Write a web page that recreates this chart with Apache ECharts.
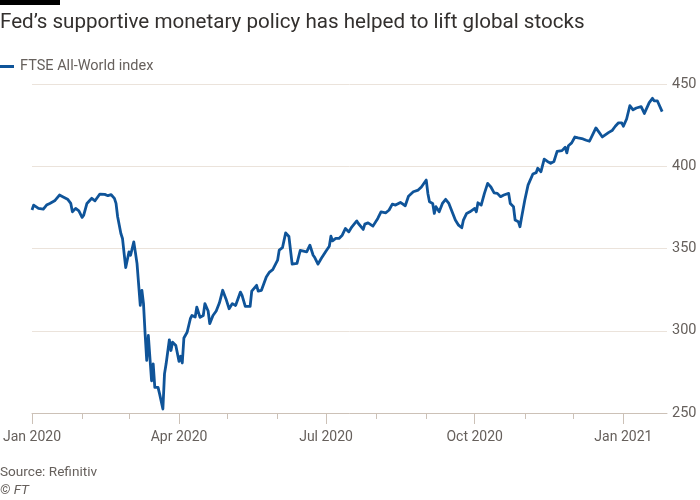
<!DOCTYPE html>
<html>
<head>
<meta charset="utf-8">
<script src="https://cdn.jsdelivr.net/npm/echarts@6/dist/echarts.min.js"></script>
<style>
  html, body { margin: 0; padding: 0; background: #fff; }
  #chart { width: 700px; height: 500px; }
</style>
</head>
<body>
<div id="chart"></div>
<script>
  var seriesName = 'FTSE All-World index';

  var dates = [
    '2020-01-01', '2020-01-02', '2020-01-05', '2020-01-08', '2020-01-10', '2020-01-12', '2020-01-15', '2020-01-18',
    '2020-01-20', '2020-01-23', '2020-01-25', '2020-01-26', '2020-01-28', '2020-01-30', '2020-02-01', '2020-02-02',
    '2020-02-04', '2020-02-07', '2020-02-09', '2020-02-12', '2020-02-15', '2020-02-17', '2020-02-19', '2020-02-21',
    '2020-02-22', '2020-02-23', '2020-02-25', '2020-02-26', '2020-02-27', '2020-02-28', '2020-03-01', '2020-03-02',
    '2020-03-04', '2020-03-05', '2020-03-06', '2020-03-08', '2020-03-09', '2020-03-10', '2020-03-11', '2020-03-12',
    '2020-03-13', '2020-03-15', '2020-03-16', '2020-03-17', '2020-03-19', '2020-03-20', '2020-03-22', '2020-03-23',
    '2020-03-24', '2020-03-26', '2020-03-27', '2020-03-28', '2020-03-30', '2020-04-01', '2020-04-02', '2020-04-03',
    '2020-04-04', '2020-04-06', '2020-04-08', '2020-04-09', '2020-04-11', '2020-04-12', '2020-04-14', '2020-04-16',
    '2020-04-17', '2020-04-19', '2020-04-20', '2020-04-22', '2020-04-24', '2020-04-26', '2020-04-28', '2020-04-30',
    '2020-05-02', '2020-05-04', '2020-05-06', '2020-05-09', '2020-05-10', '2020-05-12', '2020-05-15', '2020-05-16',
    '2020-05-19', '2020-05-20', '2020-05-22', '2020-05-25', '2020-05-27', '2020-05-29', '2020-06-01', '2020-06-02',
    '2020-06-04', '2020-06-06', '2020-06-08', '2020-06-10', '2020-06-13', '2020-06-15', '2020-06-19', '2020-06-21',
    '2020-06-23', '2020-06-24', '2020-06-26', '2020-06-28', '2020-07-01', '2020-07-03', '2020-07-04', '2020-07-05',
    '2020-07-07', '2020-07-09', '2020-07-11', '2020-07-13', '2020-07-15', '2020-07-17', '2020-07-20', '2020-07-21',
    '2020-07-24', '2020-07-25', '2020-07-27', '2020-07-30', '2020-08-02', '2020-08-04', '2020-08-07', '2020-08-09',
    '2020-08-11', '2020-08-13', '2020-08-16', '2020-08-19', '2020-08-21', '2020-08-24', '2020-08-27', '2020-08-29',
    '2020-08-30', '2020-09-01', '2020-09-02', '2020-09-03', '2020-09-05', '2020-09-06', '2020-09-07', '2020-09-09',
    '2020-09-11', '2020-09-13', '2020-09-15', '2020-09-17', '2020-09-19', '2020-09-21', '2020-09-23', '2020-09-24',
    '2020-09-26', '2020-09-28', '2020-10-01', '2020-10-02', '2020-10-03', '2020-10-05', '2020-10-07', '2020-10-09',
    '2020-10-11', '2020-10-13', '2020-10-15', '2020-10-17', '2020-10-19', '2020-10-22', '2020-10-23', '2020-10-25',
    '2020-10-26', '2020-10-28', '2020-10-29', '2020-10-30', '2020-11-01', '2020-11-03', '2020-11-04', '2020-11-06',
    '2020-11-08', '2020-11-09', '2020-11-11', '2020-11-13', '2020-11-15', '2020-11-17', '2020-11-19', '2020-11-21',
    '2020-11-24', '2020-11-26', '2020-11-27', '2020-11-28', '2020-11-30', '2020-12-02', '2020-12-04', '2020-12-07',
    '2020-12-09', '2020-12-11', '2020-12-13', '2020-12-15', '2020-12-17', '2020-12-19', '2020-12-21', '2020-12-23',
    '2020-12-25', '2020-12-27', '2020-12-29', '2020-12-31', '2021-01-01', '2021-01-03', '2021-01-05', '2021-01-07',
    '2021-01-09', '2021-01-12', '2021-01-14', '2021-01-15', '2021-01-17', '2021-01-19', '2021-01-20', '2021-01-22',
    '2021-01-23', '2021-01-25'
  ];

  var values = [
    373.4, 376.4, 374.4, 374.0, 376.4, 377.4, 379.0, 382.5,
    381.5, 380.0, 377.4, 372.3, 374.4, 372.9, 368.9, 370.3,
    377.4, 380.5, 379.0, 383.1, 382.9, 382.1, 382.7, 380.5,
    377.4, 369.3, 359.1, 356.1, 347.0, 338.4, 347.9, 345.9,
    354.0, 347.5, 340.8, 315.4, 324.6, 316.5, 298.2, 282.0,
    297.1, 269.6, 279.9, 265.6, 265.6, 261.5, 252.4, 273.8,
    279.9, 294.5, 288.0, 293.1, 291.0, 281.4, 284.5, 280.4,
    295.6, 299.1, 307.3, 309.3, 308.3, 314.4, 308.1, 309.3,
    316.5, 312.0, 304.3, 309.3, 312.0, 317.0, 324.6, 319.5,
    313.4, 316.5, 315.4, 323.5, 321.5, 314.8, 314.8, 324.1,
    327.6, 324.1, 324.6, 332.7, 335.7, 337.2, 342.9, 349.0,
    350.5, 359.5, 357.3, 340.5, 341.0, 348.8, 347.9, 352.0,
    345.9, 344.5, 340.5, 343.9, 348.5, 351.4, 357.5, 354.6,
    356.1, 356.1, 358.1, 362.2, 360.1, 363.2, 366.8, 365.2,
    361.6, 364.8, 365.6, 363.6, 368.3, 372.3, 371.7, 373.4,
    377.0, 376.4, 378.0, 376.0, 381.8, 384.5, 385.5, 387.4,
    387.1, 391.6, 383.5, 378.4, 377.4, 371.3, 375.4, 372.3,
    377.4, 379.9, 377.4, 372.3, 367.3, 364.2, 362.6, 367.3,
    371.3, 372.3, 374.4, 372.3, 377.8, 376.4, 383.5, 389.6,
    387.4, 383.8, 383.5, 381.5, 382.5, 383.5, 377.4, 375.4,
    367.3, 366.3, 363.2, 368.8, 379.5, 388.5, 390.8, 395.3,
    396.1, 398.8, 396.7, 404.3, 402.9, 401.8, 402.9, 409.0,
    409.5, 411.5, 408.1, 412.5, 414.2, 417.8, 417.2, 416.6,
    415.8, 415.2, 419.2, 423.3, 420.6, 417.8, 419.2, 420.6,
    421.7, 424.3, 426.4, 426.4, 424.3, 428.7, 436.8, 434.3,
    435.4, 436.2, 432.1, 432.6, 438.7, 441.3, 439.8, 439.8,
    438.7, 433.2
  ];

  // x axis: monthly minor ticks, quarterly labelled ticks
  var monthTicks = [
    '2020-01-01', '2020-02-01', '2020-03-01', '2020-04-01', '2020-05-01', '2020-06-01', '2020-07-01',
    '2020-08-01', '2020-09-01', '2020-10-01', '2020-11-01', '2020-12-01', '2021-01-01'
  ];
  var quarterTicks = ['2020-01-01', '2020-04-01', '2020-07-01', '2020-10-01', '2021-01-01'];
  var quarterLabels = ['Jan 2020', 'Apr 2020', 'Jul 2020', 'Oct 2020', 'Jan 2021'];

  var yTicks = [250, 300, 350, 400, 450];

  var xMin = '2020-01-01';
  var xMax = '2021-01-28';

  var FONT = 'Roboto, "Noto Sans", sans-serif';
  var TEXT_GREY = '#66605c';
  var GRID_COLOR = '#ebe3db';
  var AXIS_COLOR = '#ccc1b7';
  var LINE_BLUE = '#0f5499';

  // dates are read as local time, the same way for data and ticks
  var parse = function (s) { return +echarts.time.parse(s); };

  var labelByTime = {};
  quarterTicks.forEach(function (d, i) { labelByTime[parse(d)] = quarterLabels[i]; });

  var chart = echarts.init(document.getElementById('chart'));

  var option = {
    backgroundColor: '#fff',
    animation: false,
    textStyle: { fontFamily: FONT },
    title: {
      text: 'Fed\u2019s supportive monetary policy has helped to lift global stocks',
      left: 0,
      top: 12,
      padding: 0,
      textStyle: { fontFamily: FONT, fontSize: 20.6, fontWeight: 'normal', color: '#33302e' }
    },
    legend: {
      left: 0,
      top: 59,
      padding: 0,
      icon: 'rect',
      itemWidth: 14,
      itemHeight: 3,
      itemGap: 10,
      textStyle: { fontFamily: FONT, fontSize: 14.5, color: TEXT_GREY, padding: [0, 0, 0, 1] },
      data: [seriesName]
    },
    grid: { left: 31, right: 33, top: 84, bottom: 87, containLabel: false },
    xAxis: [
      {
        type: 'value',
        min: parse(xMin),
        max: parse(xMax),
        axisLine: { show: true, lineStyle: { color: AXIS_COLOR, width: 1 } },
        axisTick: {
          show: true,
          length: 6,
          lineStyle: { color: AXIS_COLOR },
          customValues: monthTicks.map(parse)
        },
        axisLabel: { show: false },
        splitLine: { show: false }
      },
      {
        type: 'value',
        position: 'bottom',
        min: parse(xMin),
        max: parse(xMax),
        axisLine: { show: false },
        axisTick: {
          show: true,
          length: 11,
          lineStyle: { color: AXIS_COLOR },
          customValues: quarterTicks.map(parse)
        },
        axisLabel: {
          show: true,
          margin: 17,
          fontFamily: FONT,
          fontSize: 14,
          color: TEXT_GREY,
          showMinLabel: true,
          showMaxLabel: true,
          customValues: quarterTicks.map(parse),
          formatter: function (v) { return labelByTime[v] || ''; }
        },
        splitLine: { show: false }
      }
    ],
    yAxis: {
      type: 'value',
      position: 'right',
      min: yTicks[0],
      max: yTicks[yTicks.length - 1],
      interval: 50,
      axisLine: { show: false },
      axisTick: { show: false },
      axisLabel: { margin: 5, fontFamily: FONT, fontSize: 14.5, color: TEXT_GREY },
      splitLine: { show: true, lineStyle: { color: GRID_COLOR, width: 1 } }
    },
    graphic: [
      { type: 'rect', left: 0, top: 0, shape: { width: 60, height: 5 }, style: { fill: '#000' } },
      {
        type: 'text', left: 0, top: 466,
        style: { text: 'Source: Refinitiv', fontFamily: FONT, fontSize: 13.6, fill: TEXT_GREY }
      },
      {
        type: 'text', left: 0, top: 484,
        style: { text: '\u00a9 FT', fontFamily: FONT, fontSize: 13.6, fontStyle: 'italic', fill: TEXT_GREY }
      }
    ],
    series: [
      {
        name: seriesName,
        type: 'line',
        xAxisIndex: 0,
        showSymbol: false,
        symbol: 'none',
        lineStyle: { color: LINE_BLUE, width: 2.8, join: 'round' },
        itemStyle: { color: LINE_BLUE },
        data: dates.map(function (d, i) { return [parse(d), values[i]]; })
      }
    ]
  };

  chart.setOption(option);
  window.addEventListener('resize', chart.resize);
</script>
</body>
</html>
